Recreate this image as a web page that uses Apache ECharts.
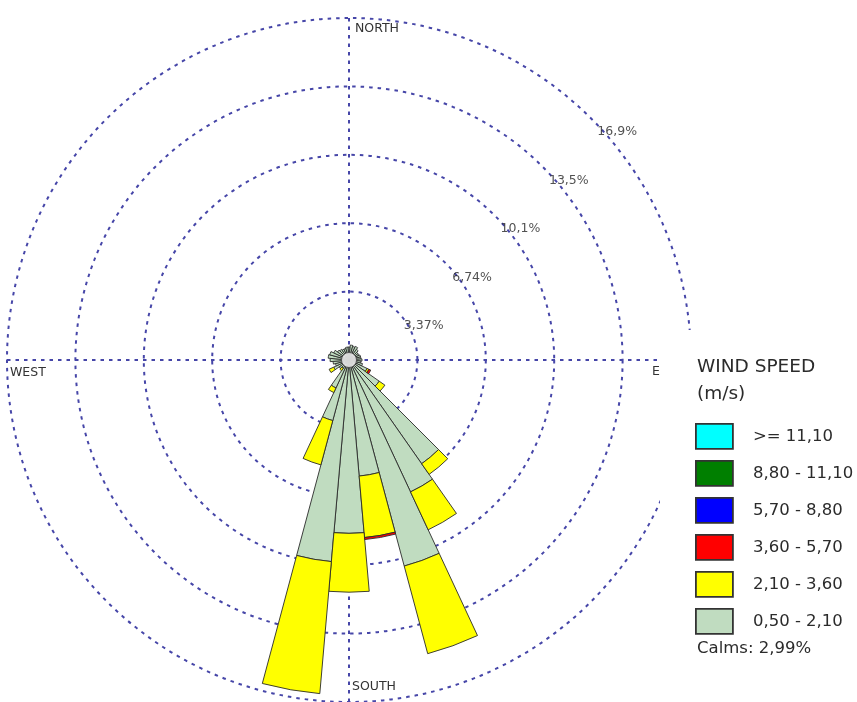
<!DOCTYPE html>
<html>
<head>
<meta charset="utf-8">
<script src="https://cdn.jsdelivr.net/npm/echarts@6/dist/echarts.min.js"></script>
<style>
html,body{margin:0;padding:0;background:#ffffff;}
#chart{width:857px;height:702px;}
</style>
</head>
<body>
<div id="chart"></div>
<script>
// ---- data (percent of time, per 10° wind direction, bearing from north) ----
const directions = ['0','10','20','30','40','50','60','70','80','90','100','110',
  '120','130','140','150','160','170','180','190','200','210','220','230',
  '240','250','260','270','280','290','300','310','320','330','340','350'];

const speed050_210 = [0.64,0.74,0.69,0.74,0.64,0.54,0.54,0.59,0.59,0.64,0.59,0.69,
  0.98,1.82,6.24,7.17,10.51,5.74,8.54,9.97,3.09,1.52,0.49,0.59,
  0.83,0.69,0.79,0.93,1.03,0.98,0.83,0.69,0.64,0.59,0.59,0.64];
const speed210_360 = [0,0,0,0,0,0,0,0,0,0,0,0,
  0.10,0.34,0.64,2.06,4.47,3.04,2.90,6.53,2.26,0.25,0.15,0,
  0.25,0,0,0,0,0,0,0,0,0,0,0];
const speed360_570 = [0,0,0,0,0,0,0,0,0,0,0,0,
  0.10,0,0,0,0,0.10,0,0,0,0,0,0,
  0,0,0,0,0,0,0,0,0,0,0,0];
const speed570_880 = [0,0,0,0,0,0,0,0,0,0,0,0,0,0,0,0,0,0,0,0,0,0,0,0,0,0,0,0,0,0,0,0,0,0,0,0];
const speed880_1110 = [0,0,0,0,0,0,0,0,0,0,0,0,0,0,0,0,0,0,0,0,0,0,0,0,0,0,0,0,0,0,0,0,0,0,0,0];
const speed1110 = [0,0,0,0,0,0,0,0,0,0,0,0,0,0,0,0,0,0,0,0,0,0,0,0,0,0,0,0,0,0,0,0,0,0,0,0];

const speedClasses = ['0,50 - 2,10','2,10 - 3,60','3,60 - 5,70','5,70 - 8,80','8,80 - 11,10','>= 11,10'];
const speedColors = ['#c0dcc0','#ffff00','#ff0000','#0000ff','#007f00','#00ffff'];
const speedSeries = [speed050_210, speed210_360, speed360_570, speed570_880, speed880_1110, speed1110];

const ringTicks = [3.37, 6.74, 10.11, 13.48, 16.85];
const ringLabels = ['3,37%','6,74%','10,1%','13,5%','16,9%'];
const compassLabels = ['NORTH','E','SOUTH','WEST'];
const legendTitle = ['WIND SPEED','(m/s)'];
const calmsText = 'Calms: 2,99%';

// ---- chart ----
const chart = echarts.init(document.getElementById('chart'), null, {renderer:'canvas'});
const FONT = '"DejaVu Sans", Verdana, sans-serif';
const DASH = {color:'#4646a8', type:[3.5,5], width:2};
const CENTER = [349, 360];
const RADIUS = 342;

const barSeries = speedSeries.map((arr, i) => ({
  name: speedClasses[i],
  type: 'bar',
  coordinateSystem: 'polar',
  polarIndex: 0,
  stack: 'wind',
  barCategoryGap: '0%',
  data: arr.map(v => v === 0 ? '-' : v),
  itemStyle: {color: speedColors[i], borderColor: '#2a2a2a', borderWidth: 0.9},
  silent: true,
  z: 3
}));

const compassPlace = {
  'NORTH': {x: 355, y: 29},
  'E': {x: 652, y: 372},
  'SOUTH': {x: 352, y: 687},
  'WEST': {x: 10, y: 373}
};

const option = {
  animation: false,
  backgroundColor: '#ffffff',
  polar: [
    {center: CENTER, radius: RADIUS},
    {center: CENTER, radius: RADIUS}
  ],
  angleAxis: [
    {polarIndex: 0, type: 'category', data: directions, startAngle: 95, clockwise: true,
     boundaryGap: true,
     axisLine: {show: false}, axisTick: {show: false}, axisLabel: {show: false}, splitLine: {show: false}},
    {polarIndex: 1, type: 'value', min: 0, max: 360, interval: 90, startAngle: 90, clockwise: true,
     axisLine: {show: false}, axisTick: {show: false}, axisLabel: {show: false},
     splitLine: {show: true, lineStyle: DASH}, z: 0}
  ],
  radiusAxis: [
    {polarIndex: 0, type: 'value', min: 0, max: ringTicks[ringTicks.length-1], interval: ringTicks[0],
     axisLine: {show: false}, axisTick: {show: false}, axisLabel: {show: false},
     splitLine: {show: true, lineStyle: DASH}, z: 0},
    {polarIndex: 1, type: 'value', min: 0, max: ringTicks[ringTicks.length-1],
     axisLine: {show: false}, axisTick: {show: false}, axisLabel: {show: false}, splitLine: {show: false}}
  ],
  legend: {
    orient: 'vertical',
    left: 695, top: 423,
    padding: 0,
    itemWidth: 37, itemHeight: 25, itemGap: 10.2,
    icon: 'rect',
    data: speedClasses.slice().reverse(),
    itemStyle: {borderColor: '#333333', borderWidth: 1.8},
    textStyle: {fontFamily: FONT, fontSize: 16.5, color: '#2b2b2b', padding: [0,0,0,15]},
    selectedMode: false,
    z: 10
  },
  graphic: [
    {type: 'rect', shape: {x: 660, y: 330, width: 197, height: 372}, style: {fill: '#ffffff'}, z: 1, silent: true},
    ...compassLabels.map(t => ({
      type: 'text', x: compassPlace[t].x, y: compassPlace[t].y, z: 5, silent: true,
      style: {text: t, font: '12.5px ' + FONT, fill: '#333333', align: 'left', verticalAlign: 'middle'}
    })),
    {type: 'text', x: 697, y: 367, z: 5, silent: true,
     style: {text: legendTitle[0], font: '18.5px ' + FONT, fill: '#2b2b2b', align: 'left', verticalAlign: 'middle'}},
    {type: 'text', x: 697, y: 394, z: 5, silent: true,
     style: {text: legendTitle[1], font: '18.5px ' + FONT, fill: '#2b2b2b', align: 'left', verticalAlign: 'middle'}},
    {type: 'text', x: 697, y: 649, z: 5, silent: true,
     style: {text: calmsText, font: '16.5px ' + FONT, fill: '#2b2b2b', align: 'left', verticalAlign: 'middle'}}
  ],
  series: [
    ...barSeries,
    {
      name: 'calm', type: 'scatter', coordinateSystem: 'polar', polarIndex: 0,
      data: [[0, 0]], symbol: 'circle', symbolSize: 15,
      itemStyle: {color: '#ffffff', borderColor: '#444444', borderWidth: 1},
      silent: true, z: 8
    },
    {
      name: 'rings', type: 'scatter', coordinateSystem: 'polar', polarIndex: 1,
      data: ringTicks.map(v => [v, 45]), symbol: 'circle', symbolSize: 1,
      itemStyle: {color: 'rgba(0,0,0,0)'},
      label: {show: true, position: 'right', distance: 6, offset: [0, 14],
        formatter: p => ringLabels[p.dataIndex],
        fontFamily: FONT, fontSize: 12.5, color: '#262626'},
      silent: true, z: 6
    }
  ]
};
chart.setOption(option);
</script>
</body>
</html>
